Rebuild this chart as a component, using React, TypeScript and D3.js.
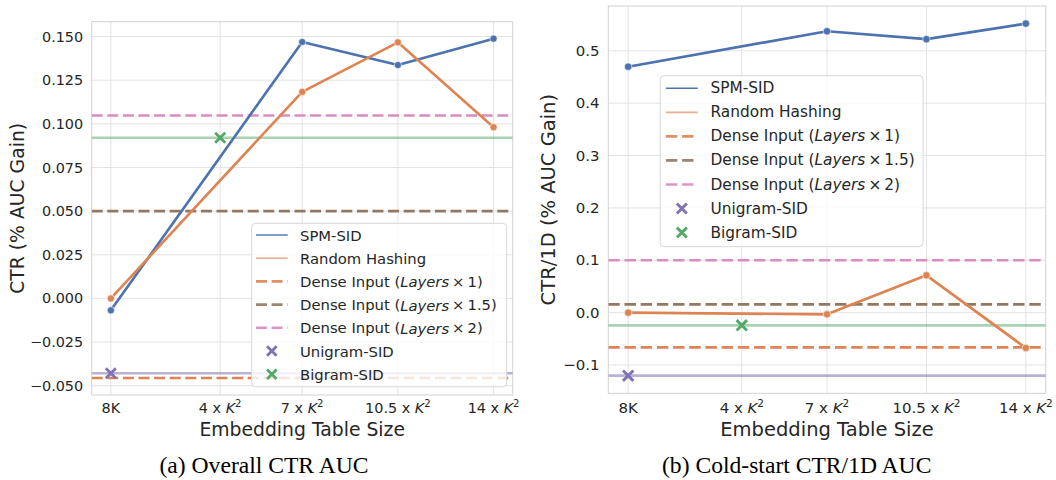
import React from "react";
import * as d3 from "d3";

// ---------- data ----------
const xTickValues = [0, 4, 7, 10.5, 14];
const xTickLabels = ["8K", "4 x K²", "7 x K²", "10.5 x K²", "14 x K²"];
const seriesX = [0, 7, 10.5, 14];
const unigramX = 0;
const bigramX = 4;

const legendLabels = [
  "SPM-SID",
  "Random Hashing",
  "Dense Input (Layers × 1)",
  "Dense Input (Layers × 1.5)",
  "Dense Input (Layers × 2)",
  "Unigram-SID",
  "Bigram-SID",
];

// (a) Overall CTR AUC
const overallSPM = [-0.0068, 0.1469, 0.1337, 0.1488];
const overallRandom = [0.0, 0.1183, 0.1467, 0.0981];
const overallDense1 = -0.0456;
const overallDense15 = 0.05;
const overallDense2 = 0.1048;
const overallUnigram = -0.0429;
const overallBigram = 0.092;
const overallYTicks = [-0.05, -0.025, 0, 0.025, 0.05, 0.075, 0.1, 0.125, 0.15];

// (b) Cold-start CTR/1D AUC
const coldSPM = [0.4696, 0.5373, 0.5222, 0.5519];
const coldRandom = [0.0, -0.0032, 0.0713, -0.0675];
const coldDense1 = -0.0662;
const coldDense15 = 0.0159;
const coldDense2 = 0.1;
const coldUnigram = -0.1204;
const coldBigram = -0.0242;
const coldYTicks = [-0.1, 0, 0.1, 0.2, 0.3, 0.4, 0.5];

// ---------- styling ----------
const C = {
  blue: "#4C72B0",
  orange: "#DD8452",
  green: "#55A868",
  purple: "#8172B3",
  brown: "#937860",
  pink: "#DA8BC3",
  text: "#262626",
  grid: "#e3e3e3",
  frame: "#d2d2d2",
};
const SANS = "'DejaVu Sans', Verdana, sans-serif";
const SERIF = "'Liberation Serif', 'Times New Roman', serif";

type PanelData = {
  spm: number[];
  random: number[];
  dense1: number;
  dense15: number;
  dense2: number;
  uni: number;
  bi: number;
  yTicks: number[];
  yFormat: (v: number) => string;
};

type PanelLayout = {
  left: number;
  right: number;
  top: number;
  bottom: number;
  s: number; // font scale
  yLabel: string;
  yLabelX: number;
  caption: string;
  captionX: number;
  legend: { x: number; y: number; w: number; h: number; row0: number; dy: number; hx0: number; hx1: number; tx: number };
};

const minusFmt = (f: (v: number) => string) => (v: number) => f(v).replace("-", "\u2212");

function TickLabel({ label, x, y, fs }: { label: string; x: number; y: number; fs: number }) {
  if (label.includes("K²")) {
    const pre = label.replace("K²", "");
    return (
      <text x={x} y={y} textAnchor="middle" fontSize={fs} fill={C.text} fontFamily={SANS}>
        {pre}
        <tspan fontStyle="italic">K</tspan>
        <tspan dy={-fs * 0.42} fontSize={fs * 0.7}>2</tspan>
      </text>
    );
  }
  return (
    <text x={x} y={y} textAnchor="middle" fontSize={fs} fill={C.text} fontFamily={SANS}>
      {label}
    </text>
  );
}

function LegendText({ label, x, y, fs }: { label: string; x: number; y: number; fs: number }) {
  const idx = label.indexOf("Layers");
  if (idx >= 0) {
    return (
      <text x={x} y={y} fontSize={fs} fill={C.text} fontFamily={SANS} dominantBaseline="central">
        {label.slice(0, idx)}
        <tspan fontStyle="italic">Layers</tspan>
        {label.slice(idx + 6).replace(" × ", "\u2009×\u2009")}
      </text>
    );
  }
  return (
    <text x={x} y={y} fontSize={fs} fill={C.text} fontFamily={SANS} dominantBaseline="central">
      {label}
    </text>
  );
}

function XMark({ cx, cy, r, color, sw }: { cx: number; cy: number; r: number; color: string; sw: number }) {
  return (
    <g stroke={color} strokeWidth={sw} strokeLinecap="butt">
      <line x1={cx - r} y1={cy - r} x2={cx + r} y2={cy + r} />
      <line x1={cx - r} y1={cy + r} x2={cx + r} y2={cy - r} />
    </g>
  );
}

function Panel({ d, L, id }: { d: PanelData; L: PanelLayout; id: string }) {
  const x = d3.scaleLinear().domain([-0.7, 14.7]).range([L.left, L.right]);
  const all = [...d.spm, ...d.random, d.dense1, d.dense15, d.dense2, d.uni, d.bi];
  const [mn, mx] = d3.extent(all) as [number, number];
  const pad = (mx - mn) * 0.05;
  const y = d3.scaleLinear().domain([mn - pad, mx + pad]).range([L.bottom, L.top]);
  const line = d3
    .line<number>()
    .x((_, i) => x(seriesX[i]))
    .y((v) => y(v));
  const s = L.s;
  const tickFs = 14.4 * s;
  const legFs = 14.8 * s;
  const labFs = 18.8 * s;
  const lw = 2.6 * s;
  const dash = `${11 * s},${4.6 * s}`;
  const cx = (L.left + L.right) / 2;
  const cy = (L.top + L.bottom) / 2;

  const hlines = [
    { v: d.uni, color: C.purple, op: 0.55, dash: undefined as string | undefined },
    { v: d.bi, color: C.green, op: 0.5, dash: undefined },
    { v: d.dense1, color: C.orange, op: 1, dash },
    { v: d.dense15, color: C.brown, op: 1, dash },
    { v: d.dense2, color: C.pink, op: 1, dash },
  ];

  const lg = L.legend;
  const handleMid = (lg.hx0 + lg.hx1) / 2;

  return (
    <g>
      <defs>
        <clipPath id={`clip-${id}`}>
          <rect x={L.left} y={L.top} width={L.right - L.left} height={L.bottom - L.top} />
        </clipPath>
      </defs>
      {/* grid */}
      {xTickValues.map((t) => (
        <line key={`gx${t}`} x1={x(t)} x2={x(t)} y1={L.top} y2={L.bottom} stroke={C.grid} strokeWidth={1} />
      ))}
      {d.yTicks.map((t) => (
        <line key={`gy${t}`} x1={L.left} x2={L.right} y1={y(t)} y2={y(t)} stroke={C.grid} strokeWidth={1} />
      ))}
      {/* frame */}
      <rect x={L.left} y={L.top} width={L.right - L.left} height={L.bottom - L.top} fill="none" stroke={C.frame} strokeWidth={1} />

      <g clipPath={`url(#clip-${id})`}>
        {hlines.map((h, i) => (
          <line
            key={`h${i}`}
            x1={L.left}
            x2={L.right}
            y1={y(h.v)}
            y2={y(h.v)}
            stroke={h.color}
            strokeOpacity={h.op}
            strokeWidth={lw}
            strokeDasharray={h.dash}
          />
        ))}
        <path d={line(d.spm) || ""} fill="none" stroke={C.blue} strokeWidth={lw} strokeLinejoin="round" />
        <path d={line(d.random) || ""} fill="none" stroke={C.orange} strokeWidth={lw} strokeLinejoin="round" />
        {d.spm.map((v, i) => (
          <circle key={`bs${i}`} cx={x(seriesX[i])} cy={y(v)} r={3.6 * s} fill={C.blue} stroke="#fff" strokeWidth={0.6} />
        ))}
        {d.random.map((v, i) => (
          <circle key={`rs${i}`} cx={x(seriesX[i])} cy={y(v)} r={3.6 * s} fill={C.orange} stroke="#fff" strokeWidth={0.6} />
        ))}
        <XMark cx={x(unigramX)} cy={y(d.uni)} r={5 * s} color={C.purple} sw={2.8 * s} />
        <XMark cx={x(bigramX)} cy={y(d.bi)} r={5 * s} color={C.green} sw={2.8 * s} />
      </g>

      {/* y ticks */}
      {d.yTicks.map((t) => (
        <text
          key={`yt${t}`}
          x={L.left - 8.5 * s}
          y={y(t)}
          textAnchor="end"
          dominantBaseline="central"
          fontSize={tickFs}
          fill={C.text}
          fontFamily={SANS}
        >
          {d.yFormat(t)}
        </text>
      ))}
      {/* x ticks */}
      {xTickValues.map((t, i) => (
        <TickLabel key={`xt${t}`} label={xTickLabels[i]} x={x(t)} y={413} fs={tickFs} />
      ))}
      <text x={cx} y={436} textAnchor="middle" fontSize={labFs} fill={C.text} fontFamily={SANS}>
        Embedding Table Size
      </text>
      <text
        transform={`translate(${L.yLabelX},${cy}) rotate(-90)`}
        textAnchor="middle"
        dominantBaseline="central"
        fontSize={labFs}
        fill={C.text}
        fontFamily={SANS}
      >
        {L.yLabel}
      </text>
      <text x={L.captionX} y={473} textAnchor="middle" fontSize={23.6} fill="#000" fontFamily={SERIF}>
        {L.caption}
      </text>

      {/* legend */}
      <rect x={lg.x} y={lg.y} width={lg.w} height={lg.h} rx={4} ry={4} fill="#fff" fillOpacity={0.8} stroke="#d8d8d8" strokeWidth={1} />
      {legendLabels.map((lab, i) => {
        const ry = lg.row0 + i * lg.dy;
        let handle: React.ReactNode = null;
        if (i === 0) handle = <line x1={lg.hx0} x2={lg.hx1} y1={ry} y2={ry} stroke={C.blue} strokeWidth={1.4 * s} />;
        else if (i === 1)
          handle = <line x1={lg.hx0} x2={lg.hx1} y1={ry} y2={ry} stroke={C.orange} strokeOpacity={0.65} strokeWidth={1.6 * s} />;
        else if (i >= 2 && i <= 4) {
          const col = [C.orange, C.brown, C.pink][i - 2];
          handle = (
            <line x1={lg.hx0} x2={lg.hx1} y1={ry} y2={ry} stroke={col} strokeOpacity={0.9} strokeWidth={lw} strokeDasharray={dash} />
          );
        } else {
          const col = i === 5 ? C.purple : C.green;
          handle = <XMark cx={handleMid} cy={ry} r={4.8 * s} color={col} sw={2.8 * s} />;
        }
        return (
          <g key={`lg${i}`}>
            {handle}
            <LegendText label={lab} x={lg.tx} y={ry} fs={legFs} />
          </g>
        );
      })}
    </g>
  );
}

export default function App() {
  const fmt3 = minusFmt(d3.format(".3f"));
  const fmt1 = minusFmt(d3.format(".1f"));
  const overall: PanelData = {
    spm: overallSPM,
    random: overallRandom,
    dense1: overallDense1,
    dense15: overallDense15,
    dense2: overallDense2,
    uni: overallUnigram,
    bi: overallBigram,
    yTicks: overallYTicks,
    yFormat: fmt3,
  };
  const cold: PanelData = {
    spm: coldSPM,
    random: coldRandom,
    dense1: coldDense1,
    dense15: coldDense15,
    dense2: coldDense2,
    uni: coldUnigram,
    bi: coldBigram,
    yTicks: coldYTicks,
    yFormat: fmt1,
  };
  const La: PanelLayout = {
    left: 91.7,
    right: 512.7,
    top: 21.7,
    bottom: 395,
    s: 1,
    yLabel: "CTR (% AUC Gain)",
    yLabelX: 17,
    caption: "(a) Overall CTR AUC",
    captionX: 264,
    legend: { x: 251.7, y: 223.3, w: 255, h: 163.5, row0: 235, dy: 23.2, hx0: 256, hx1: 287.7, tx: 300 },
  };
  const Lb: PanelLayout = {
    left: 608.3,
    right: 1045.7,
    top: 6,
    bottom: 393.3,
    s: 1.038,
    yLabel: "CTR/1D (% AUC Gain)",
    yLabelX: 548.5,
    caption: "(b) Cold-start CTR/1D AUC",
    captionX: 796.7,
    legend: { x: 660.2, y: 75.7, w: 263, h: 171, row0: 88.3, dy: 24.05, hx0: 665.9, hx1: 697.8, tx: 710.5 },
  };
  return (
    <svg width={1056} height={480} style={{ position: "absolute", left: 0, top: 0, background: "#fff" }}>
      <rect width={1056} height={480} fill="#fff" />
      <Panel d={overall} L={La} id="a" />
      <Panel d={cold} L={Lb} id="b" />
    </svg>
  );
}
